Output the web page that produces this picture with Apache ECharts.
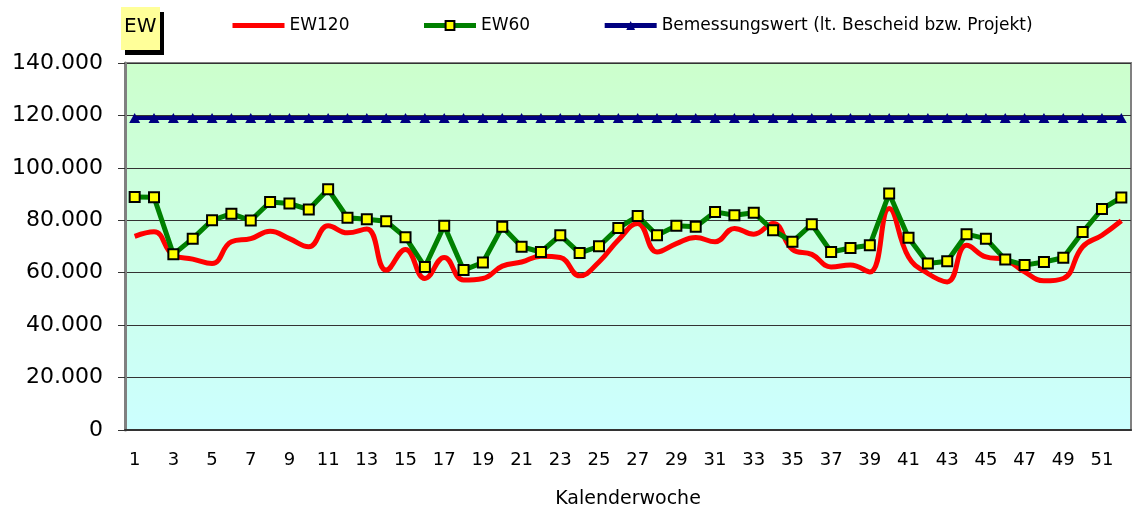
<!DOCTYPE html>
<html>
<head>
<meta charset="utf-8">
<script src="https://cdn.jsdelivr.net/npm/echarts@6/dist/echarts.min.js"></script>
<style>
  html, body { margin: 0; padding: 0; background: #fff; }
  #chart { width: 1138px; height: 515px; }
</style>
</head>
<body>
<div id="chart"></div>
<script>
// Kalenderwochen
var weeks = ["1", "2", "3", "4", "5", "6", "7", "8", "9", "10", "11", "12", "13",
  "14", "15", "16", "17", "18", "19", "20", "21", "22", "23", "24", "25", "26",
  "27", "28", "29", "30", "31", "32", "33", "34", "35", "36", "37", "38", "39",
  "40", "41", "42", "43", "44", "45", "46", "47", "48", "49", "50", "51", "52"];

var ew120 = [73900, 75600, 66700, 65200, 63500, 71800, 73000, 75800, 73000, 69900,
  77900, 75200, 76700, 61000, 68900, 57800, 65800, 57200, 57800, 62500,
  64100, 66300, 65800, 58800, 64100, 72500, 78800, 67900, 71100, 73400,
  71800, 76900, 74700, 78800, 68900, 67000, 62200, 62900, 60300, 84500,
  66000, 59700, 56500, 70500, 66000, 65000, 60300, 56900, 57800, 69900,
  74300, 79800];

var ew60 = [88900, 88800, 67000, 73000, 80000, 82500, 79900, 87000, 86400, 84100,
  91800, 81000, 80400, 79600, 73500, 62200, 77900, 61000, 63900, 77500,
  69900, 67900, 74300, 67500, 70100, 77100, 81600, 74300, 77900, 77500,
  83200, 81900, 82900, 76200, 71800, 78500, 67900, 69400, 70500, 90200,
  73300, 63500, 64400, 74700, 73000, 65000, 62900, 64100, 65700, 75500,
  84300, 88700];

// Bemessungswert (lt. Bescheid bzw. Projekt)
var bemessung = [119000, 119000, 119000, 119000, 119000, 119000, 119000, 119000,
  119000, 119000, 119000, 119000, 119000, 119000, 119000, 119000, 119000, 119000,
  119000, 119000, 119000, 119000, 119000, 119000, 119000, 119000, 119000, 119000,
  119000, 119000, 119000, 119000, 119000, 119000, 119000, 119000, 119000, 119000,
  119000, 119000, 119000, 119000, 119000, 119000, 119000, 119000, 119000, 119000,
  119000, 119000, 119000, 119000];

var yMin = 0, yMax = 140000, yStep = 20000;

var myChart = echarts.init(document.getElementById("chart"));

var option = {
  animation: false,
  textStyle: { fontFamily: "DejaVu Sans", color: "#000" },
  graphic: [
    // "EW" Kästchen mit Schatten
    { type: "rect", left: 125, top: 12, shape: { width: 39, height: 43 }, style: { fill: "#000" } },
    { type: "rect", left: 121, top: 7, shape: { width: 39, height: 43 }, style: { fill: "#FFFF99" } },
    { type: "text", left: 124, top: 17, style: { text: "EW", font: "20px DejaVu Sans", fill: "#000" } }
  ],
  legend: {
    left: 225,
    top: 12,
    itemWidth: 52,
    itemHeight: 11,
    itemGap: 72,
    textStyle: { fontSize: 17, color: "#000", fontFamily: "DejaVu Sans" },
    data: [
      // ohne Marker, nur die Linie
      { name: "EW120", lineStyle: { width: 5 }, itemStyle: { opacity: 0 } },
      { name: "EW60", lineStyle: { width: 5 } },
      { name: "Bemessungswert (lt. Bescheid bzw. Projekt)", lineStyle: { width: 5 } }
    ]
  },
  grid: {
    left: 125,
    right: 7,
    top: 63,
    bottom: 85,
    show: true,
    borderColor: "#808080",
    borderWidth: 2,
    backgroundColor: new echarts.graphic.LinearGradient(0, 0, 0, 1, [
      { offset: 0, color: "#CCFFCC" },
      { offset: 1, color: "#CCFFFF" }
    ])
  },
  xAxis: {
    type: "category",
    data: weeks,
    boundaryGap: true,
    name: "Kalenderwoche",
    nameLocation: "middle",
    nameGap: 60,
    nameTextStyle: { fontSize: 19, color: "#000" },
    axisLine: { lineStyle: { color: "#333", width: 2 } },
    axisTick: { interval: 0, length: 6, lineStyle: { color: "#333", width: 1 } },
    axisLabel: { interval: 1, fontSize: 18, color: "#000", margin: 21 },
    splitLine: { show: false }
  },
  yAxis: {
    type: "value",
    min: yMin,
    max: yMax,
    interval: yStep,
    axisLine: { show: true, lineStyle: { color: "#808080", width: 3 } },
    axisTick: { show: true, length: 7, lineStyle: { color: "#333" } },
    axisLabel: {
      fontSize: 22,
      color: "#000",
      margin: 22,
      formatter: function (v) { return v.toLocaleString("de-DE"); }
    },
    splitLine: { show: true, lineStyle: { color: "#333", width: 1 } }
  },
  series: [
    {
      name: "EW120",
      type: "line",
      data: ew120,
      smooth: 0.45,
      showSymbol: false,
      symbol: "none",
      lineStyle: { color: "#FF0000", width: 5 },
      itemStyle: { color: "#FF0000" },
      z: 3
    },
    {
      name: "EW60",
      type: "line",
      data: ew60,
      symbol: "rect",
      symbolSize: 10,
      lineStyle: { color: "#008000", width: 5 },
      itemStyle: { color: "#FFFF00", borderColor: "#000", borderWidth: 2 },
      z: 4
    },
    {
      name: "Bemessungswert (lt. Bescheid bzw. Projekt)",
      type: "line",
      data: bemessung,
      symbol: "triangle",
      symbolSize: [11, 10],
      lineStyle: { color: "#000080", width: 4 },
      itemStyle: { color: "#000080" },
      z: 5
    }
  ]
};

myChart.setOption(option);
</script>
</body>
</html>
